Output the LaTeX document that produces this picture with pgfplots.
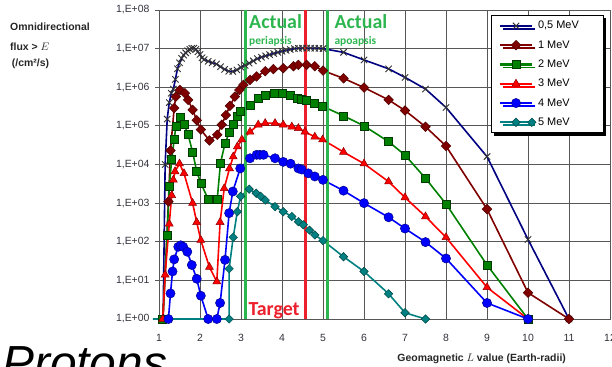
\documentclass[border=0pt]{standalone}
\usepackage{pgfplots}
\pgfplotsset{compat=1.18}
\usepackage{fontspec}
\setmainfont{Liberation Sans}
\newfontfamily\calibri{Carlito}
\usetikzlibrary{shadows}

\definecolor{cNavy}{RGB}{0,0,128}
\definecolor{cMaroon}{RGB}{128,0,0}
\definecolor{cGreen}{RGB}{0,128,0}
\definecolor{cRed}{RGB}{255,0,0}
\definecolor{cBlue}{RGB}{0,0,255}
\definecolor{cTeal}{RGB}{0,128,128}
\definecolor{orbitGreen}{RGB}{45,182,80}
\definecolor{targetRed}{RGB}{236,32,44}
\definecolor{tickText}{RGB}{50,50,60}

\begin{document}
\begin{tikzpicture}[x=1bp,y=1bp]
\begin{axis}[
  at={(159bp,47bp)}, anchor=south west,
  scale only axis, width=451bp, height=309bp,
  xmin=1, xmax=12, ymin=1, ymax=1e8, ymode=log, log basis y=10,
  xtick={1,...,12},
  ytick={1,10,100,1000,1e4,1e5,1e6,1e7,1e8},
  yticklabels={{1,E+00},{1,E+01},{1,E+02},{1,E+03},{1,E+04},{1,E+05},{1,E+06},{1,E+07},{1,E+08}},
  /pgf/number format/assume math mode=true,
  grid=major,
  major grid style={black!66, line width=0.8bp},
  axis line style={black!66, line width=0.8bp},
  ytick pos=left, xtick pos=bottom, tick align=outside,
  major tick length=4bp,
  xtick style={draw=none},
  ytick style={black!66, line width=0.8bp},
  tick label style={font=\fontsize{10.5}{12}\selectfont, text=tickText},
  yticklabel style={xshift=-2bp},
  xticklabel style={yshift=-8bp},
  clip=false,
  every axis plot/.append style={line width=1.6bp},
  legend image code/.code={
    \draw[mark repeat=2, mark phase=2, #1, line width=2.2bp]
      plot coordinates {(0bp,0bp) (15.8bp,0bp) (31.6bp,0bp)};},
  legend cell align=left,
  legend style={
    at={(0.7355,0.984)}, anchor=north west,
    draw=black, line width=0.8bp, fill=white,
    drop shadow={shadow xshift=3bp, shadow yshift=-3bp, fill=black, opacity=1},
    font=\fontsize{11}{13}\selectfont,
    inner xsep=8bp, inner ysep=4bp,
    row sep=6.2bp,
  },
]

% 0.5 MeV
\addplot[color=cNavy, mark=x, mark size=4.5bp,
         mark options={draw=black!80, line width=0.9bp}]
coordinates {
(1.10,1) (1.15,1e4) (1.20,1.5e5) (1.25,4e5) (1.30,7e5) (1.35,9e5)
(1.40,1.6e6) (1.45,3e6) (1.50,4.3e6) (1.55,5.6e6) (1.60,6.8e6)
(1.65,7.8e6) (1.70,8.8e6) (1.75,9.6e6) (1.80,1.02e7) (1.85,1.03e7)
(1.90,9.6e6) (1.95,8.3e6) (2.00,7e6) (2.05,5.8e6) (2.10,5.2e6)
(2.20,4.7e6) (2.30,4.3e6) (2.40,4e6) (2.50,3.4e6) (2.60,2.9e6)
(2.70,2.6e6) (2.80,2.55e6) (2.90,2.8e6) (3.00,3.3e6) (3.10,3.7e6)
(3.20,4.2e6) (3.30,4.8e6) (3.40,5.5e6) (3.50,6e6) (3.60,6.5e6)
(3.70,7e6) (3.80,7.5e6) (3.90,8e6) (4.00,8.5e6) (4.10,9e6)
(4.20,9.5e6) (4.30,1e7) (4.40,1.02e7) (4.50,1.03e7) (4.60,1.03e7)
(4.70,1.03e7) (4.80,1.02e7) (4.90,1.02e7) (5.00,1e7) (5.50,8e6)
(6.00,5.1e6) (6.60,3e6) (7.00,1.8e6) (7.50,9e5) (8.00,3e5)
(9.00,1.6e4) (10.00,1.15e2) (11.00,1)
};
\addlegendentry{\makebox[55bp][l]{0,5 MeV}}

% 1 MeV
\addplot[color=cMaroon, mark=square*, mark size=3.4bp,
         mark options={rotate=45, fill=cMaroon, draw=cMaroon!60!black, line width=0.5bp}]
coordinates {
(1.10,1) (1.23,1.1e3) (1.28,2.3e4) (1.37,2.9e5) (1.41,5.7e5) (1.51,8.5e5)
(1.63,7e5) (1.71,4.7e5) (1.82,2.6e5) (1.92,1.4e5) (2.02,8e4)
(2.23,4.2e4) (2.42,5.9e4) (2.53,1.07e5) (2.63,1.9e5) (2.73,3.3e5)
(2.85,5.7e5) (2.96,8.5e5) (3.06,1.15e6) (3.22,1.55e6) (3.38,1.9e6)
(3.59,2.6e6) (3.79,2.95e6) (4.03,3.1e6) (4.28,3.5e6) (4.40,3.8e6)
(4.60,3.8e6) (4.80,3.5e6) (5.00,2.7e6) (5.50,1.7e6) (6.00,9.8e5)
(6.60,4.7e5) (7.00,2.5e5) (7.50,9.5e4) (8.00,3e4) (9.00,7e2)
(10.00,4.8) (11.00,1)
};
\addlegendentry{1 MeV}

% 2 MeV
\addplot[color=cGreen, mark=square*, mark size=4bp,
         mark options={fill=cGreen, draw=cGreen!45!black, line width=0.5bp}]
coordinates {
(1.09,1) (1.20,1.5e2) (1.25,2.7e3) (1.31,1.35e4) (1.37,4.4e4) (1.41,9.5e4)
(1.53,1.7e5) (1.62,1.07e5) (1.71,5.9e4) (1.82,2.1e4) (1.92,6.6e3)
(2.02,3.3e3) (2.20,1.26e3) (2.42,1.26e3) (2.50,1.1e4) (2.61,3.5e4)
(2.72,7e4) (2.81,1.07e5) (2.90,1.75e5) (2.99,2.35e5) (3.22,3.5e5)
(3.42,5.2e5) (3.59,6.3e5) (3.80,7e5) (4.00,7e5) (4.20,6.3e5)
(4.36,5.2e5) (4.48,4.9e5) (4.60,4.7e5) (4.78,3.9e5) (4.97,3.3e5)
(5.50,1.82e5) (6.00,1e5) (6.60,3.9e4) (7.00,1.75e4) (7.50,4.4e3)
(8.00,9.5e2) (9.00,25) (10.00,1)
};
\addlegendentry{2 MeV}

% 3 MeV
\addplot[color=cRed, mark=triangle*, mark size=4.6bp,
         mark options={fill=cRed, draw=cRed!55!black, line width=0.5bp}]
coordinates {
(1.09,1) (1.15,14) (1.25,2.9e2) (1.31,1.6e3) (1.35,4e3) (1.39,6.6e3)
(1.50,1.05e4) (1.61,5.9e3) (1.82,1e3) (1.92,3.2e2) (2.02,1.1e2)
(2.23,22) (2.41,9.3) (2.49,3.2e2) (2.59,2.4e3) (2.72,7.9e3)
(2.81,1.6e4) (2.91,2.9e4) (3.02,4.4e4) (3.22,7e4) (3.42,1.07e5)
(3.59,1.17e5) (3.83,1.17e5) (4.03,1.07e5) (4.24,9.5e4) (4.40,8.7e4)
(4.56,7e4) (4.80,5.2e4) (4.99,4.4e4) (5.50,2.1e4) (6.00,1.05e4)
(6.60,3.6e3) (7.00,1.4e3) (7.50,4.5e2) (8.00,1.3e2) (9.00,6.6)
(10.00,1)
};
\addlegendentry{3 MeV}

% 4 MeV
\addplot[color=cBlue, mark=*, mark size=4.6bp,
         mark options={fill=cBlue, draw=cBlue!55!black, line width=0.5bp}]
coordinates {
(1.23,1) (1.28,4.6) (1.33,17) (1.37,35) (1.47,74) (1.53,81) (1.59,74)
(1.69,55) (1.80,25) (1.92,11) (2.02,4) (2.20,1) (2.41,1) (2.49,2.6)
(2.61,34) (2.71,5.5e2) (2.80,2e3) (2.98,7.9e3) (3.22,1.45e4)
(3.38,1.78e4) (3.46,1.78e4) (3.55,1.78e4) (3.83,1.45e4) (4.03,1.17e4)
(4.21,1.05e4) (4.40,7.9e3) (4.48,7.4e3) (4.64,5.9e3) (4.80,4.9e3)
(5.00,4e3) (5.50,2.1e3) (6.00,1e3) (6.60,4.3e2) (7.00,2.2e2)
(7.50,98) (8.00,37) (9.00,2.6) (10.00,1)
};
\addlegendentry{4 MeV}

% 5 MeV
\addplot[color=cTeal, mark=square*, mark size=3bp, mark indices={2,...,23},
         mark options={rotate=45, fill=cTeal, draw=cTeal!55!black, line width=0.5bp}]
coordinates {
(0.85,1) (2.71,1) (2.71,20) (2.81,1.3e2) (2.91,6e2) (2.99,1.5e3)
(3.20,2.3e3) (3.37,1.8e3) (3.48,1.5e3) (3.59,1.2e3) (3.83,8.1e2)
(4.03,6e2) (4.24,4.5e2) (4.40,3.3e2) (4.52,2.75e2) (4.67,2e2)
(4.80,1.5e2) (5.00,1.07e2) (5.50,41) (6.00,17) (6.60,4.5)
(7.00,1.45) (7.50,1)
};
\addlegendentry{5 MeV}

% orbit markers: periapsis, target, apoapsis
\addplot[forget plot, orbitGreen, line width=3bp] coordinates {(3.11,1) (3.11,1e8)};
\addplot[forget plot, targetRed, line width=3bp] coordinates {(4.58,1) (4.58,1e8)};
\addplot[forget plot, orbitGreen, line width=3bp] coordinates {(5.11,1) (5.11,1e8)};
\end{axis}

% orbit annotations
\node[anchor=base west, inner sep=0, text=orbitGreen,
      font=\calibri\bfseries\fontsize{20}{24}\selectfont] at (249,337.7) {Actual};
\node[anchor=base west, inner sep=0, text=orbitGreen,
      font=\calibri\bfseries\fontsize{11.5}{13}\selectfont] at (249,322) {periapsis};
\node[anchor=base west, inner sep=0, text=orbitGreen,
      font=\calibri\bfseries\fontsize{20}{24}\selectfont] at (334.3,337.7) {Actual};
\node[anchor=base west, inner sep=0, text=orbitGreen,
      font=\calibri\bfseries\fontsize{11.5}{13}\selectfont] at (334.3,322) {apoapsis};
\node[anchor=base west, inner sep=0, text=targetRed,
      font=\calibri\bfseries\fontsize{20}{24}\selectfont] at (248.3,51) {Target};

% axis titles
\node[anchor=base west, inner sep=0, font=\bfseries\fontsize{10.5}{12}\selectfont,
      text=black!85] at (10,335.3) {Omnidirectional};
\node[anchor=base west, inner sep=0, font=\bfseries\fontsize{10.5}{12}\selectfont,
      text=black!85] at (10,316) {flux > $E$};
\node[anchor=base west, inner sep=0, font=\bfseries\fontsize{10.5}{12}\selectfont,
      text=black!85] at (11.7,300) {(/cm²/s)};
\node[anchor=base, inner sep=0, font=\bfseries\fontsize{10.5}{12}\selectfont,
      text=black!85] at (481.7,4.3) {Geomagnetic $L$ value (Earth-radii)};

% panel caption
\node[anchor=base west, inner sep=0, font=\itshape\fontsize{48}{56}\selectfont]
  at (2,-13.5) {Protons};

\pgfresetboundingbox
\path[use as bounding box] (0,0) rectangle (612,366);
\end{tikzpicture}
\end{document}
